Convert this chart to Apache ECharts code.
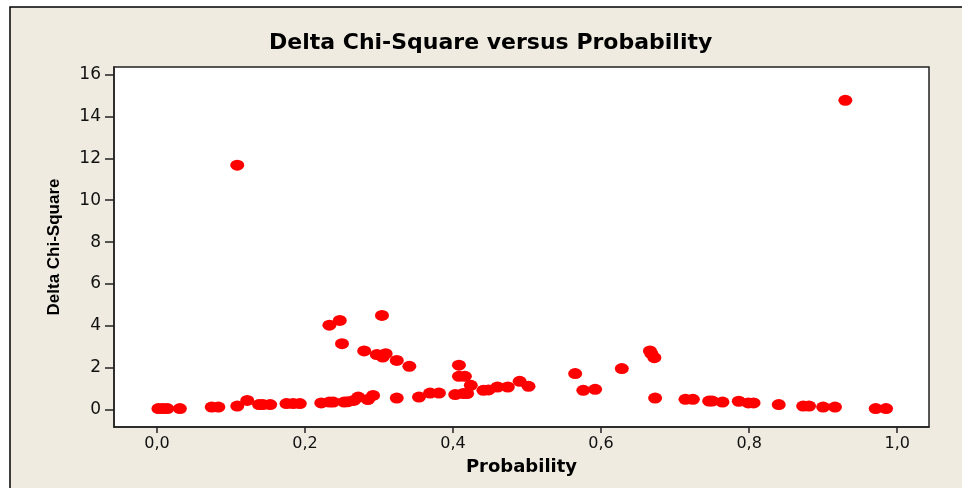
<!DOCTYPE html>
<html>
<head>
<meta charset="utf-8">
<script src="https://cdn.jsdelivr.net/npm/echarts@6/dist/echarts.min.js"></script>
<style>
html,body{margin:0;padding:0;background:#ffffff;}
#c{width:962px;height:488px;}
</style>
</head>
<body>
<div id="c"></div>
<script>
const probability = [0.002,0.008,0.014,0.031,0.074,0.083,0.1085,0.1085,0.122,0.138,0.143,0.153,0.175,0.184,0.193,0.222,0.233,0.238,0.233,0.247,0.25,0.253,0.258,0.266,0.272,0.28,0.285,0.292,0.297,0.304,0.305,0.309,0.324,0.324,0.341,0.354,0.369,0.381,0.408,0.408,0.416,0.403,0.414,0.419,0.424,0.441,0.448,0.46,0.474,0.49,0.502,0.565,0.576,0.592,0.628,0.666,0.668,0.672,0.673,0.714,0.724,0.746,0.75,0.764,0.786,0.799,0.806,0.84,0.873,0.881,0.9,0.916,0.93,0.971,0.985];
const deltaChiSquare = [0.05,0.05,0.05,0.05,0.12,0.12,11.67,0.17,0.44,0.24,0.24,0.24,0.29,0.29,0.29,0.32,0.36,0.36,4.03,4.26,3.15,0.36,0.38,0.44,0.6,2.8,0.48,0.68,2.63,4.5,2.51,2.67,2.35,0.55,2.07,0.6,0.79,0.79,2.12,1.59,1.59,0.72,0.77,0.77,1.16,0.92,0.94,1.08,1.08,1.35,1.11,1.72,0.92,0.97,1.96,2.8,2.67,2.48,0.55,0.49,0.49,0.41,0.41,0.36,0.4,0.32,0.32,0.24,0.17,0.17,0.12,0.12,14.77,0.05,0.05];
const xTicks = [0,0.2,0.4,0.6,0.8,1.0];
const yTicks = [0,2,4,6,8,10,12,14,16];

const points = probability.map((p,i)=>[p, deltaChiSquare[i]]);
const chart = echarts.init(document.getElementById('c'), null, {renderer:'canvas'});
const fmt = v => v.toFixed(1).replace('.', ',');
chart.setOption({
  backgroundColor: '#ffffff',
  animation: false,
  graphic: [{
    type: 'rect', z: -10, silent: true,
    shape: {x: 10, y: 7, width: 1000, height: 600},
    style: {fill: '#EFEBE1', stroke: '#000', lineWidth: 1.5}
  }],
  title: {
    text: 'Delta Chi-Square versus Probability',
    left: 269, top: 32, padding: 0,
    textStyle: {fontFamily: 'DejaVu Sans', fontWeight: 'bold', fontSize: 22, color: '#000'}
  },
  grid: {
    left: 114, top: 67, right: 33, bottom: 61,
    show: true, backgroundColor: '#ffffff', borderColor: '#222', borderWidth: 1.5
  },
  xAxis: {
    type: 'value', min: -0.058, max: 1.043,
    name: 'Probability', nameLocation: 'middle', nameGap: 31,
    nameTextStyle: {fontFamily: 'DejaVu Sans', fontWeight: 'bold', fontSize: 18, color: '#000'},
    axisLine: {show: true, onZero: false, lineStyle: {color: '#222', width: 1.5}},
    axisTick: {show: true, inside: false, length: 6, customValues: xTicks, lineStyle: {color: '#222', width: 1.5}},
    axisLabel: {customValues: xTicks, formatter: fmt, margin: 9, fontFamily: 'DejaVu Sans', fontSize: 16, color: '#111'},
    splitLine: {show: false}
  },
  yAxis: {
    type: 'value', min: -0.83, max: 16.36,
    name: 'Delta Chi-Square', nameLocation: 'middle', nameGap: 51, nameRotate: 90,
    nameTextStyle: {fontFamily: 'Liberation Sans Narrow, Liberation Sans', fontWeight: 'bold', fontSize: 17, color: '#000'},
    axisLine: {show: true, onZero: false, lineStyle: {color: '#222', width: 1.5}},
    axisTick: {show: true, inside: false, length: 9, customValues: yTicks, lineStyle: {color: '#222', width: 1.5}},
    axisLabel: {customValues: yTicks, margin: 13, fontFamily: 'DejaVu Sans', fontSize: 17, color: '#111'},
    splitLine: {show: false}
  },
  series: [{
    type: 'scatter',
    data: points,
    symbol: 'circle',
    symbolSize: [14, 11],
    itemStyle: {color: '#FF0000', opacity: 1}
  }]
});
</script>
</body>
</html>
